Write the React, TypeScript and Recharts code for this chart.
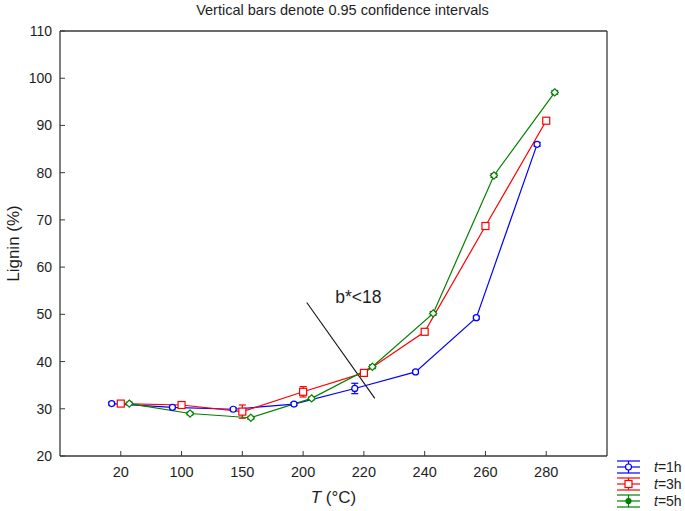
import React from 'react';
import { LineChart, Line, XAxis, YAxis, ErrorBar, ReferenceLine, ReferenceDot, Legend } from 'recharts';

const categories = ['20', '100', '150', '200', '220', '240', '260', '280'];
const lignin1h = [31.1, 30.3, 29.9, 31.0, 34.3, 37.8, 49.3, 86.0];
const lignin3h = [31.1, 30.8, 29.4, 33.6, 37.6, 46.3, 68.7, 91.0];
const lignin5h = [31.1, 29.0, 28.1, 32.2, 38.9, 50.2, 79.4, 97.0];
// half-width of the 0.95 confidence intervals
const ci1h = [0.3, 0.3, 0.3, 0.3, 1.1, 0.3, 0.3, 0.4];
const ci3h = [0.4, 0.4, 1.4, 1.1, 0.6, 0.5, 0.7, 0.4];
const ci5h = [0.3, 0.3, 0.3, 0.3, 0.4, 0.4, 0.4, 0.4];
const yTicks = [20, 30, 40, 50, 60, 70, 80, 90, 100, 110];
const xTicks = categories.map((_, i) => i + 1);

// b*<18 boundary line, in axis units
const boundary = [{ x: 4.06, y: 52.5 }, { x: 5.18, y: 32.2 }];

const FONT = '"Liberation Sans", Arial, sans-serif';
const FRAME = '#3a3a3a';
const TEXT = '#1e1e1e';

// series are nudged sideways around each category, like in the original plot
const toPoints = (values: number[], ci: number[], shift: number) =>
  values.map((v, i) => ({ x: i + 1 + shift, y: v, ci: ci[i] }));

const circleDot = (color: string) => (p: any) => (
  <circle key={p.index} cx={p.cx} cy={p.cy} r={3} fill="#fff" stroke={color} strokeWidth={1.2} />
);
const squareDot = (color: string) => (p: any) => (
  <rect key={p.index} x={p.cx - 3.5} y={p.cy - 3.5} width={7} height={7} fill="#fff" stroke={color} strokeWidth={1.2} />
);
const diamondDot = (color: string) => (p: any) => (
  <path
    key={p.index}
    d={`M${p.cx},${p.cy - 3.6}L${p.cx + 3.6},${p.cy}L${p.cx},${p.cy + 3.6}L${p.cx - 3.6},${p.cy}Z`}
    fill="#fff"
    stroke={color}
    strokeWidth={1.2}
  />
);

const series = [
  { name: '1h', color: '#0000ff', data: toPoints(lignin1h, ci1h, -0.15), dot: circleDot('#0000ff') },
  { name: '3h', color: '#ff0000', data: toPoints(lignin3h, ci3h, 0), dot: squareDot('#ff0000') },
  { name: '5h', color: '#008000', data: toPoints(lignin5h, ci5h, 0.14), dot: diamondDot('#008000') },
];

const BottomTick = ({ x, y, payload }: any) => (
  <g>
    <line x1={x} x2={x} y1={y} y2={y - 5} stroke={FRAME} />
    <text x={x} y={y + 21} textAnchor="middle" fontSize={14.5} fill={TEXT} fontFamily={FONT}>
      {categories[payload.value - 1]}
    </text>
  </g>
);
const TopTick = ({ x, y }: any) => <line x1={x} x2={x} y1={y} y2={y + 5} stroke={FRAME} />;
const LeftTick = ({ x, y, payload }: any) => (
  <g>
    <line x1={x} x2={x + 5} y1={y} y2={y} stroke={FRAME} />
    <text x={x - 8} y={y + 5} textAnchor="end" fontSize={14} fill={TEXT} fontFamily={FONT}>
      {payload.value}
    </text>
  </g>
);
const RightTick = ({ x, y }: any) => <line x1={x} x2={x - 5} y1={y} y2={y} stroke={FRAME} />;

const LegendBox = () => (
  <svg width={75} height={56}>
    {series.map((s, i) => {
      const cy = 12 + 17 * i;
      return (
        <g key={s.name} stroke={s.color} strokeWidth={1.2}>
          <line x1={7} x2={30} y1={cy - 6} y2={cy - 6} />
          <line x1={7} x2={30} y1={cy} y2={cy} />
          <line x1={7} x2={30} y1={cy + 6} y2={cy + 6} />
          <line x1={18.5} x2={18.5} y1={cy - 6} y2={cy + 6} />
          {i === 0 && <circle cx={18.5} cy={cy} r={3} fill="#fff" />}
          {i === 1 && <rect x={15} y={cy - 3.5} width={7} height={7} fill="#fff" />}
          {i === 2 && <circle cx={18.5} cy={cy} r={2.5} fill={s.color} />}
          <text x={44} y={cy + 5} stroke="none" fill={TEXT} fontSize={14} fontFamily={FONT}>
            <tspan fontStyle="italic">t</tspan>={s.name}
          </text>
        </g>
      );
    })}
  </svg>
);

export default function App() {
  return (
    <div style={{ position: 'absolute', left: 0, top: 0, width: 685, height: 511, background: '#fff' }}>
      <div
        style={{
          position: 'absolute',
          top: 2,
          width: 685,
          textAlign: 'center',
          fontFamily: FONT,
          fontSize: 14.5,
          color: TEXT,
        }}
      >
        Vertical bars denote 0.95 confidence intervals
      </div>
      <LineChart width={685} height={511} margin={{ top: 30, right: 77, bottom: 54, left: 0 }}>
        <XAxis
          xAxisId="bottom"
          type="number"
          dataKey="x"
          domain={[0, 9]}
          ticks={xTicks}
          interval={0}
          height={1}
          tickSize={0}
          tickMargin={0}
          tick={<BottomTick />}
          stroke={FRAME}
          strokeWidth={1.3}
          allowDataOverflow
          label={({ viewBox }: any) => (
            <text
              x={viewBox.x + viewBox.width / 2}
              y={503}
              textAnchor="middle"
              fontSize={17}
              fill={TEXT}
              fontFamily={FONT}
            >
              <tspan fontStyle="italic">T</tspan> (°C)
            </text>
          )}
        />
        <XAxis
          xAxisId="top"
          orientation="top"
          type="number"
          domain={[0, 9]}
          ticks={xTicks}
          interval={0}
          height={1}
          tickSize={0}
          tickMargin={0}
          tick={<TopTick />}
          stroke={FRAME}
          strokeWidth={1.3}
        />
        <YAxis
          yAxisId="left"
          type="number"
          domain={[20, 110]}
          ticks={yTicks}
          interval={0}
          width={60}
          tickSize={0}
          tickMargin={0}
          tick={<LeftTick />}
          stroke={FRAME}
          strokeWidth={1.3}
          allowDataOverflow
          label={({ viewBox }: any) => {
            const cy = viewBox.y + viewBox.height / 2;
            return (
              <text
                x={19}
                y={cy}
                transform={`rotate(-90 19 ${cy})`}
                textAnchor="middle"
                fontSize={17}
                fill={TEXT}
                fontFamily={FONT}
              >
                Lignin (%)
              </text>
            );
          }}
        />
        <YAxis
          yAxisId="right"
          orientation="right"
          type="number"
          domain={[20, 110]}
          ticks={yTicks}
          interval={0}
          width={1}
          tickSize={0}
          tickMargin={0}
          tick={<RightTick />}
          stroke={FRAME}
          strokeWidth={1.3}
        />
        <ReferenceLine
          xAxisId="bottom"
          yAxisId="left"
          segment={boundary}
          stroke="#111"
          strokeWidth={1.1}
        />
        <ReferenceDot
          xAxisId="bottom"
          yAxisId="left"
          x={4.91}
          y={52.4}
          r={0}
          shape={(p: any) => (
            <text x={p.cx} y={p.cy} textAnchor="middle" fontSize={17.5} fill={TEXT} fontFamily={FONT}>
              b*&lt;18
            </text>
          )}
        />
        {series.map((s) => (
          <Line
            key={s.name}
            xAxisId="bottom"
            yAxisId="left"
            data={s.data}
            dataKey="y"
            name={`t=${s.name}`}
            stroke={s.color}
            strokeWidth={1.2}
            dot={s.dot}
            activeDot={false}
            isAnimationActive={false}
          >
            <ErrorBar dataKey="ci" direction="y" width={3.5} stroke={s.color} strokeWidth={1.2} isAnimationActive={false} />
          </Line>
        ))}
        <Legend
          layout="vertical"
          align="center"
          verticalAlign="middle"
          content={<LegendBox />}
          wrapperStyle={{ position: 'absolute', left: 610, top: 455, width: 75, height: 56 }}
        />
      </LineChart>
    </div>
  );
}
